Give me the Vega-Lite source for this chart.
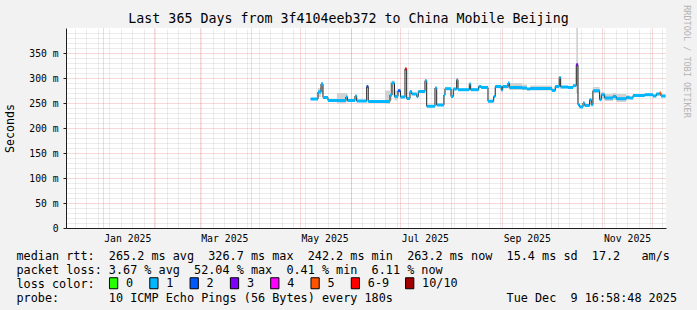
{
  "$schema": "https://vega.github.io/schema/vega-lite/v6.json",
  "width": 600,
  "height": 200,
  "autosize": {"type": "none"},
  "padding": {"left": 66, "top": 28, "right": 31, "bottom": 82},
  "background": "#f2f2f2",
  "config": {"view": {"fill": "white", "stroke": null}, "font": "DejaVu Sans Mono"},
  "data": {"values": [
    {"t":"2025-05-07T13:00Z","t2":"2025-05-12T00:00Z","m":258,"loss":"1"},
    {"t":"2025-05-12T00:00Z","t2":"2025-05-13T20:00Z","m":272,"loss":"1","lo":262,"hi":280},
    {"t":"2025-05-13T20:00Z","t2":"2025-05-15T01:00Z","m":288,"loss":"1","lo":268,"hi":292},
    {"t":"2025-05-15T01:00Z","t2":"2025-05-18T02:00Z","m":261,"loss":"1"},
    {"t":"2025-05-18T02:00Z","t2":"2025-05-23T12:00Z","m":255,"loss":"1"},
    {"t":"2025-05-23T12:00Z","t2":"2025-05-29T00:00Z","m":255,"loss":"1","lo":249,"hi":270},
    {"t":"2025-05-29T00:00Z","t2":"2025-05-29T23:00Z","m":262,"loss":"1","lo":252,"hi":270},
    {"t":"2025-05-29T23:00Z","t2":"2025-06-03T12:00Z","m":255,"loss":"1"},
    {"t":"2025-06-03T12:00Z","t2":"2025-06-04T13:00Z","m":264,"loss":"1"},
    {"t":"2025-06-04T13:00Z","t2":"2025-06-10T15:00Z","m":254,"loss":"1"},
    {"t":"2025-06-10T15:00Z","t2":"2025-06-11T14:00Z","m":283,"loss":"2"},
    {"t":"2025-06-11T14:00Z","t2":"2025-06-21T18:00Z","m":253,"loss":"1"},
    {"t":"2025-06-21T18:00Z","t2":"2025-06-24T19:00Z","m":253,"loss":"1","lo":248,"hi":275},
    {"t":"2025-06-24T19:00Z","t2":"2025-06-26T00:00Z","m":266,"loss":"1","lo":255,"hi":293},
    {"t":"2025-06-26T00:00Z","t2":"2025-06-27T13:00Z","m":290,"loss":"1","lo":265,"hi":295},
    {"t":"2025-06-27T13:00Z","t2":"2025-06-29T16:00Z","m":263,"loss":"1","lo":255,"hi":275},
    {"t":"2025-06-29T16:00Z","t2":"2025-07-01T04:00Z","m":274.6,"loss":"2"},
    {"t":"2025-07-01T04:00Z","t2":"2025-07-03T22:00Z","m":262,"loss":"1"},
    {"t":"2025-07-03T22:00Z","t2":"2025-07-04T23:00Z","m":318,"loss":"6-9"},
    {"t":"2025-07-04T23:00Z","t2":"2025-07-06T23:00Z","m":259,"loss":"1"},
    {"t":"2025-07-06T23:00Z","t2":"2025-07-08T00:00Z","m":273,"loss":"1"},
    {"t":"2025-07-08T00:00Z","t2":"2025-07-11T01:00Z","m":268,"loss":"1"},
    {"t":"2025-07-11T01:00Z","t2":"2025-07-12T00:00Z","m":263,"loss":"1"},
    {"t":"2025-07-12T00:00Z","t2":"2025-07-16T02:00Z","m":273,"loss":"1"},
    {"t":"2025-07-16T02:00Z","t2":"2025-07-17T03:00Z","m":294.6,"loss":"1"},
    {"t":"2025-07-17T03:00Z","t2":"2025-07-22T04:00Z","m":243.5,"loss":"1"},
    {"t":"2025-07-22T04:00Z","t2":"2025-07-23T05:00Z","m":280,"loss":"1"},
    {"t":"2025-07-23T05:00Z","t2":"2025-07-27T15:00Z","m":246,"loss":"1"},
    {"t":"2025-07-27T15:00Z","t2":"2025-07-28T06:00Z","m":266,"loss":"1"},
    {"t":"2025-07-28T06:00Z","t2":"2025-07-31T22:00Z","m":278.6,"loss":"1"},
    {"t":"2025-07-31T22:00Z","t2":"2025-08-02T07:00Z","m":263,"loss":"1"},
    {"t":"2025-08-02T07:00Z","t2":"2025-08-04T09:00Z","m":278,"loss":"1"},
    {"t":"2025-08-04T09:00Z","t2":"2025-08-05T04:00Z","m":296.6,"loss":"1"},
    {"t":"2025-08-05T04:00Z","t2":"2025-08-12T01:00Z","m":276.6,"loss":"1"},
    {"t":"2025-08-12T01:00Z","t2":"2025-08-12T21:00Z","m":288,"loss":"1"},
    {"t":"2025-08-12T21:00Z","t2":"2025-08-17T18:00Z","m":276.6,"loss":"1"},
    {"t":"2025-08-17T18:00Z","t2":"2025-08-19T08:00Z","m":283,"loss":"1"},
    {"t":"2025-08-19T08:00Z","t2":"2025-08-23T10:00Z","m":281,"loss":"1"},
    {"t":"2025-08-23T10:00Z","t2":"2025-08-26T21:00Z","m":253.5,"loss":"1"},
    {"t":"2025-08-26T21:00Z","t2":"2025-08-27T20:00Z","m":263,"loss":"1"},
    {"t":"2025-08-27T20:00Z","t2":"2025-08-31T12:00Z","m":283,"loss":"1"},
    {"t":"2025-08-31T12:00Z","t2":"2025-09-01T08:00Z","m":276,"loss":"1"},
    {"t":"2025-09-01T08:00Z","t2":"2025-09-04T14:00Z","m":283,"loss":"1"},
    {"t":"2025-09-04T14:00Z","t2":"2025-09-05T09:00Z","m":290,"loss":"1","lo":280,"hi":293},
    {"t":"2025-09-05T09:00Z","t2":"2025-09-13T02:00Z","m":281,"loss":"1","lo":276,"hi":290},
    {"t":"2025-09-13T02:00Z","t2":"2025-09-16T03:00Z","m":280,"loss":"1","lo":276,"hi":287},
    {"t":"2025-09-16T03:00Z","t2":"2025-09-18T03:00Z","m":278,"loss":"1"},
    {"t":"2025-09-18T03:00Z","t2":"2025-10-01T08:00Z","m":279,"loss":"1","lo":275,"hi":285},
    {"t":"2025-10-01T08:00Z","t2":"2025-10-03T08:00Z","m":275,"loss":"1"},
    {"t":"2025-10-03T08:00Z","t2":"2025-10-05T18:00Z","m":283,"loss":"1"},
    {"t":"2025-10-05T18:00Z","t2":"2025-10-06T15:00Z","m":301,"loss":"1"},
    {"t":"2025-10-06T15:00Z","t2":"2025-10-11T02:00Z","m":282,"loss":"1"},
    {"t":"2025-10-11T02:00Z","t2":"2025-10-14T03:00Z","m":281,"loss":"1"},
    {"t":"2025-10-14T03:00Z","t2":"2025-10-16T03:00Z","m":284.6,"loss":"1"},
    {"t":"2025-10-16T03:00Z","t2":"2025-10-17T04:00Z","m":326.7,"loss":"3","lo":270,"hi":400},
    {"t":"2025-10-17T04:00Z","t2":"2025-10-18T04:00Z","m":246.6,"loss":"1"},
    {"t":"2025-10-18T04:00Z","t2":"2025-10-20T05:00Z","m":242.2,"loss":"1"},
    {"t":"2025-10-20T05:00Z","t2":"2025-10-21T06:00Z","m":250,"loss":"1"},
    {"t":"2025-10-21T06:00Z","t2":"2025-10-24T06:00Z","m":245,"loss":"1"},
    {"t":"2025-10-24T06:00Z","t2":"2025-10-25T06:00Z","m":256.6,"loss":"1"},
    {"t":"2025-10-25T06:00Z","t2":"2025-10-26T06:00Z","m":246.6,"loss":"1"},
    {"t":"2025-10-26T06:00Z","t2":"2025-10-30T08:00Z","m":274.6,"loss":"1","lo":270,"hi":282},
    {"t":"2025-10-30T08:00Z","t2":"2025-10-31T08:00Z","m":256.6,"loss":"1"},
    {"t":"2025-10-31T08:00Z","t2":"2025-11-02T09:00Z","m":266.6,"loss":"1","lo":258,"hi":272},
    {"t":"2025-11-02T09:00Z","t2":"2025-11-07T11:00Z","m":260,"loss":"1","lo":254,"hi":268},
    {"t":"2025-11-07T11:00Z","t2":"2025-11-09T11:00Z","m":263,"loss":"1","lo":256,"hi":270},
    {"t":"2025-11-09T11:00Z","t2":"2025-11-15T13:00Z","m":258.6,"loss":"1","lo":252,"hi":268},
    {"t":"2025-11-15T13:00Z","t2":"2025-11-17T14:00Z","m":261,"loss":"1","lo":256,"hi":266},
    {"t":"2025-11-17T14:00Z","t2":"2025-11-19T15:00Z","m":260,"loss":"1"},
    {"t":"2025-11-19T15:00Z","t2":"2025-11-26T18:00Z","m":265,"loss":"1"},
    {"t":"2025-11-26T18:00Z","t2":"2025-12-01T18:00Z","m":266.6,"loss":"1"},
    {"t":"2025-12-01T18:00Z","t2":"2025-12-03T19:00Z","m":264,"loss":"1"},
    {"t":"2025-12-03T19:00Z","t2":"2025-12-05T20:00Z","m":268,"loss":"1"},
    {"t":"2025-12-05T20:00Z","t2":"2025-12-06T15:00Z","m":270,"loss":"5"},
    {"t":"2025-12-06T15:00Z","t2":"2025-12-09T12:00Z","m":264,"loss":"1"}
  ]},
  "layer": [
    {
      "mark": {"type": "rect", "color": "#d2d2d2"},
      "encoding": {
        "x": {"field": "t", "type": "temporal",
          "scale": {"type": "utc", "domain": [{"year":2024,"month":12,"date":9,"hours":16,"minutes":58,"seconds":48,"utc":true},{"year":2025,"month":12,"date":9,"hours":16,"minutes":58,"seconds":48,"utc":true}]},
          "axis": {"orient": "top", "grid": true, "gridColor": "#8f8f8f", "gridOpacity": 0.35, "gridDash": [1, 1], "tickCount": "week",
            "labels": false, "ticks": false, "domain": false,
            "title": "Last 365 Days from 3f4104eeb372 to China Mobile Beijing",
            "titleFont": "DejaVu Sans Mono", "titleFontSize": 13.3, "titleFontWeight": "normal", "titleColor": "#000000",
            "titleX": 282, "titleY": -6, "titleAlign": "center", "titleBaseline": "alphabetic", "titleAngle": 0}},
        "x2": {"field": "t2"},
        "y": {"field": "lo", "type": "quantitative",
          "scale": {"domain": [0, 400], "nice": false, "zero": false},
          "axis": {"orient": "left", "grid": true, "gridColor": "#8f8f8f", "gridOpacity": 0.35, "gridDash": [1, 1],
            "values": [10,20,30,40,60,70,80,90,110,120,130,140,160,170,180,190,210,220,230,240,260,270,280,290,310,320,330,340,360,370,380,390],
            "labels": false, "ticks": false, "domain": false, "title": null}},
        "y2": {"field": "hi"}
      }
    },
    {
      "mark": {"type": "line", "interpolate": "step-after", "color": "#202020", "strokeWidth": 1},
      "encoding": {
        "x": {"field": "t", "type": "temporal",
          "scale": {"type": "utc", "domain": [{"year":2024,"month":12,"date":9,"hours":16,"minutes":58,"seconds":48,"utc":true},{"year":2025,"month":12,"date":9,"hours":16,"minutes":58,"seconds":48,"utc":true}]},
          "axis": {"orient": "bottom", "grid": true, "gridColor": "#de4f4f", "gridOpacity": 0.45, "gridDash": [1, 1], "tickCount": "month",
            "labels": false, "ticks": false, "domain": true, "domainColor": "#1f1f1f", "domainWidth": 1, "title": null}},
        "y": {"field": "m", "type": "quantitative",
          "scale": {"domain": [0, 400], "nice": false, "zero": false},
          "axis": {"orient": "left", "grid": true, "gridColor": "#de4f4f", "gridOpacity": 0.45, "gridDash": [1, 1],
            "values": [0, 50, 100, 150, 200, 250, 300, 350],
            "labelExpr": "datum.value == 0 ? '0\u00a0\u00a0' : datum.value + '\u00a0m'",
            "labelFont": "DejaVu Sans Mono", "labelFontSize": 9.7, "labelColor": "#000000", "labelPadding": 5,
            "ticks": true, "tickSize": 3, "tickColor": "#1f1f1f", "domain": true, "domainColor": "#1f1f1f",
            "title": "Seconds", "titleFont": "DejaVu Sans Mono", "titleFontSize": 11.6, "titleFontWeight": "normal", "titleColor": "#000000",
            "titleX": -56, "titleY": 100, "titleAngle": 270, "titleAlign": "center", "titleBaseline": "middle"}}
      }
    },
    {
      "mark": {"type": "rect", "yOffset": -1.5, "y2Offset": 1.5},
      "encoding": {
        "x": {"field": "t", "type": "temporal",
          "scale": {"type": "utc", "domain": [{"year":2024,"month":12,"date":9,"hours":16,"minutes":58,"seconds":48,"utc":true},{"year":2025,"month":12,"date":9,"hours":16,"minutes":58,"seconds":48,"utc":true}]},
          "axis": {"orient": "bottom", "grid": false, "ticks": false, "tickSize": 0, "domain": false,
            "values": [{"year":2025,"month":1,"date":16,"utc":true},{"year":2025,"month":3,"date":16,"utc":true},{"year":2025,"month":5,"date":16,"utc":true},{"year":2025,"month":7,"date":16,"utc":true},{"year":2025,"month":9,"date":16,"utc":true},{"year":2025,"month":11,"date":16,"utc":true}],
            "labelExpr": "utcFormat(datum.value, '%b %Y')", "labelFont": "DejaVu Sans Mono", "labelFontSize": 9.8, "labelColor": "#000000",
            "labelPadding": 5, "labelAngle": 0, "labelFlush": false, "labelOverlap": false,
            "title": [
              "median\u00a0rtt:\u00a0\u00a0265.2\u00a0ms\u00a0avg\u00a0\u00a0326.7\u00a0ms\u00a0max\u00a0\u00a0242.2\u00a0ms\u00a0min\u00a0\u00a0263.2\u00a0ms\u00a0now\u00a0\u00a015.4\u00a0ms\u00a0sd\u00a0\u00a017.2\u00a0\u00a0\u00a0am/s",
              "packet\u00a0loss:\u00a03.67\u00a0%\u00a0avg\u00a0\u00a052.04\u00a0%\u00a0max\u00a0\u00a00.41\u00a0%\u00a0min\u00a0\u00a06.11\u00a0%\u00a0now",
              "loss\u00a0color:",
              "probe:\u00a0\u00a0\u00a0\u00a0\u00a0\u00a0\u00a010\u00a0ICMP\u00a0Echo\u00a0Pings\u00a0(56\u00a0Bytes)\u00a0every\u00a0180s\u00a0\u00a0\u00a0\u00a0\u00a0\u00a0\u00a0\u00a0\u00a0\u00a0\u00a0\u00a0\u00a0\u00a0\u00a0\u00a0Tue\u00a0Dec\u00a0\u00a09\u00a016:58:48\u00a02025"
            ],
            "titleFont": "DejaVu Sans Mono", "titleFontSize": 11.8, "titleFontWeight": "normal", "titleColor": "#000000",
            "titleAlign": "left", "titleAnchor": "start", "titleX": -50, "titleY": 31, "titleBaseline": "alphabetic", "titleLineHeight": 14, "titleAngle": 0}},
        "x2": {"field": "t2"},
        "y": {"field": "m", "type": "quantitative",
          "scale": {"domain": [0, 400], "nice": false, "zero": false},
          "axis": {"orient": "right", "grid": false, "labels": false, "ticks": false, "domain": false,
            "title": "RRDTOOL / TOBI OETIKER", "titleFont": "DejaVu Sans Mono", "titleFontSize": 8.5, "titleFontWeight": "normal", "titleColor": "#b4b4b4",
            "titleX": 20.5, "titleY": 33, "titleAngle": 90, "titleAlign": "center", "titleBaseline": "middle"}},
        "y2": {"field": "m"},
        "color": {"field": "loss", "type": "nominal",
          "scale": {"domain": ["0", "1", "2", "3", "4", "5", "6-9", "10/10"],
                    "range": ["#26ff00", "#00b8ff", "#0059ff", "#7e00ff", "#ff00ff", "#ff5500", "#ff0000", "#a10000"]},
          "legend": {"orient": "none", "legendX": 41.6, "legendY": 249, "direction": "horizontal", "columns": 8, "title": null, "padding": 0,
            "symbolType": "M-0.75,-1H0.75V1H-0.75Z", "symbolSize": 121, "symbolStrokeColor": "#000000", "symbolStrokeWidth": 1, "symbolOpacity": 1,
            "labelFont": "DejaVu Sans Mono", "labelFontSize": 11.8, "labelColor": "#000000", "labelOffset": 6.4, "columnPadding": 13.3,
            "encode": {"symbols": {"update": {"stroke": {"value": "#000000"}, "strokeWidth": {"value": 1}}}}}}
      }
    }
  ],
  "resolve": {"axis": {"x": "independent", "y": "independent"}}
}
